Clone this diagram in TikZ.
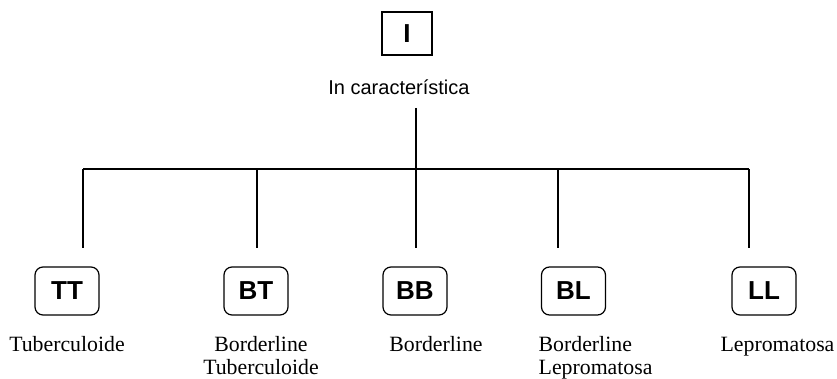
\documentclass[tikz,border=0pt]{standalone}
\usepackage{fontspec}
\setmainfont{Liberation Serif}
\setsansfont{Liberation Sans}
\begin{document}
\begin{tikzpicture}[x=0.5pt,y=-0.5pt]
		\tikzset{form/.style = {draw, rounded corners=4pt, line width=0.6pt, minimum width=32pt, minimum height=24pt, inner sep=0pt, font=\sffamily\bfseries\fontsize{13}{15}\selectfont}}
		\tikzset{caption/.style = {inner sep=0pt, font=\rmfamily\fontsize{10.9}{11.3}\selectfont}}
		\tikzset{branch/.style = {line width=0.65pt}}

		\useasboundingbox (0,0) rectangle (837,379);

		\node[draw, line width=0.6pt, minimum width=25pt, minimum height=21.5pt, inner sep=0pt, font=\sffamily\bfseries\fontsize{13}{15}\selectfont] (I) at (407,33.5) {I};
		\node[inner sep=0pt, anchor=base west, font=\sffamily\fontsize{10}{12}\selectfont] (I_text) at (328,95) {In característica};

		\coordinate (R) at (416,108);
		\coordinate (J) at (416,169);

		% branch tops and ends
		\coordinate (T_1) at (83,169);
		\coordinate (T_2) at (257,169);
		\coordinate (T_4) at (558,169);
		\coordinate (T_5) at (749,169);
		\coordinate (E_1) at (83,248);
		\coordinate (E_2) at (257,248);
		\coordinate (E_3) at (416,248);
		\coordinate (E_4) at (558,248);
		\coordinate (E_5) at (749,248);

		\node[form] (F_1) at (67,291) {TT};
		\node[form] (F_2) at (256,291) {BT};
		\node[form] (F_3) at (415,291) {BB};
		\node[form] (F_4) at (573.5,291) {BL};
		\node[form] (F_5) at (764,291) {LL};

		\node[caption, anchor=base] (C_1) at (67,352) {Tuberculoide};
		\node[caption, anchor=base, align=center] (C_2) at (261,374.3) {Borderline\\Tuberculoide};
		\node[caption, anchor=base] (C_3) at (436,352) {Borderline};
		\node[caption, anchor=base west, align=left] (C_4) at (538.3,374.3) {Borderline\\Lepromatosa};
		\node[caption, anchor=base] (C_5) at (777.5,352) {Lepromatosa};

		\draw[branch] (R)--(J);
		\draw[branch] (T_1)--(T_5);
		\draw[branch] (T_1)--(E_1);
		\draw[branch] (T_2)--(E_2);
		\draw[branch] (J)--(E_3);
		\draw[branch] (T_4)--(E_4);
		\draw[branch] (T_5)--(E_5);

	\end{tikzpicture}
\end{document}
